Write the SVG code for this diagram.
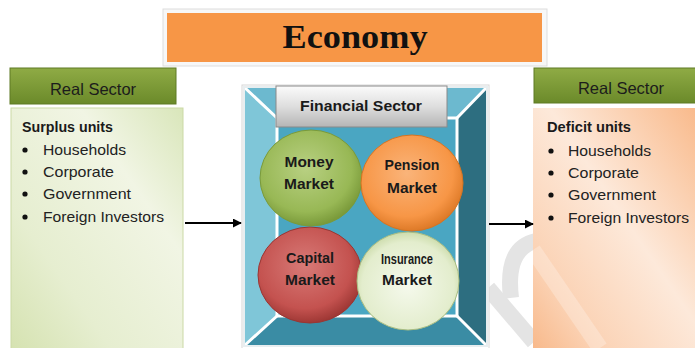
<svg xmlns="http://www.w3.org/2000/svg" width="695" height="348" viewBox="0 0 695 348">
<defs>
<linearGradient id="gHead" x1="0" y1="0" x2="0" y2="1"><stop offset="0" stop-color="#8fab45"/><stop offset="1" stop-color="#6b8a2a"/></linearGradient>
<linearGradient id="gGreenBody" x1="1" y1="0" x2="0" y2="1"><stop offset="0" stop-color="#d9e6ba"/><stop offset="0.3" stop-color="#f1f5e4"/><stop offset="0.7" stop-color="#e6eed0"/><stop offset="1" stop-color="#d5e2b0"/></linearGradient>
<linearGradient id="gOrangeBody" x1="1" y1="0" x2="0" y2="1"><stop offset="0" stop-color="#f9b98a"/><stop offset="0.45" stop-color="#fde9da"/><stop offset="0.8" stop-color="#fbd2b4"/><stop offset="1" stop-color="#f8b889"/></linearGradient>
<linearGradient id="gGray" x1="0" y1="0" x2="0" y2="1"><stop offset="0" stop-color="#fbfbfb"/><stop offset="0.5" stop-color="#dedede"/><stop offset="1" stop-color="#b5b5b5"/></linearGradient>
<radialGradient id="gMoney" cx="0.45" cy="0.4" r="0.6"><stop offset="0" stop-color="#b8d082"/><stop offset="0.75" stop-color="#98b855"/><stop offset="1" stop-color="#7a9a3a"/></radialGradient>
<radialGradient id="gPension" cx="0.45" cy="0.4" r="0.6"><stop offset="0" stop-color="#fab47a"/><stop offset="0.75" stop-color="#f79646"/><stop offset="1" stop-color="#de7a28"/></radialGradient>
<radialGradient id="gCapital" cx="0.45" cy="0.4" r="0.6"><stop offset="0" stop-color="#d87a77"/><stop offset="0.75" stop-color="#c4524f"/><stop offset="1" stop-color="#9f3835"/></radialGradient>
<radialGradient id="gInsurance" cx="0.5" cy="0.55" r="0.6"><stop offset="0" stop-color="#f5f9ec"/><stop offset="0.75" stop-color="#e3edcd"/><stop offset="1" stop-color="#c2d49c"/></radialGradient>
<marker id="arr" viewBox="0 0 10 10" refX="9" refY="5" markerWidth="9" markerHeight="9" markerUnits="userSpaceOnUse" orient="auto"><path d="M0,0 L10,5 L0,10 z" fill="#000"/></marker>
</defs>
<style>
.sans{font-family:"Liberation Sans","DejaVu Sans",sans-serif;}
.head{font-size:16.5px;fill:#1c1c1c;text-anchor:middle;}
.item{font-size:15px;fill:#222;}
.title{font-size:15px;font-weight:bold;fill:#1a1a1a;}
.mk{font-size:15px;font-weight:bold;fill:#1a1a1a;text-anchor:middle;}
.wl{stroke:#ffffff;stroke-width:3;fill:none;}
</style>
<rect width="695" height="348" fill="#ffffff"/>

<g id="watermark">
<path d="M536 241 Q505 248 511 298" stroke="#e4e4e4" stroke-width="16" fill="none"/>
<path d="M488 288 L534 342" stroke="#e4e4e4" stroke-width="16" fill="none"/>
</g>

<g id="economy">
<rect x="163" y="9" width="384" height="57" fill="#f7f7f7" stroke="#dddddd" stroke-width="1"/>
<rect x="167" y="13" width="375" height="49" fill="#f79646"/>
<text x="355" y="48" font-family="Liberation Serif,'DejaVu Serif',serif" font-weight="bold" font-size="34" fill="#111" text-anchor="middle" textLength="145" lengthAdjust="spacingAndGlyphs">Economy</text>
</g>

<g id="left-real-sector">
<rect x="10" y="68" width="166" height="36" fill="url(#gHead)" stroke="#5f7a25" stroke-width="1"/>
<text class="sans head" x="93" y="95">Real Sector</text>
<rect x="11" y="108" width="172" height="245" fill="url(#gGreenBody)" stroke="#cbd9a6" stroke-width="1"/>
<text class="sans title" x="22" y="132" textLength="91" lengthAdjust="spacingAndGlyphs">Surplus units</text>
<g class="sans item">
<circle cx="25" cy="150" r="2.6" fill="#111"/><text x="43" y="155" textLength="83" lengthAdjust="spacingAndGlyphs">Households</text>
<circle cx="25" cy="172" r="2.6" fill="#111"/><text x="43" y="177" textLength="71" lengthAdjust="spacingAndGlyphs">Corporate</text>
<circle cx="25" cy="194" r="2.6" fill="#111"/><text x="43" y="199" textLength="88" lengthAdjust="spacingAndGlyphs">Government</text>
<circle cx="25" cy="217" r="2.6" fill="#111"/><text x="43" y="222" textLength="121" lengthAdjust="spacingAndGlyphs">Foreign Investors</text>
</g>
</g>

<g id="financial-sector">
<rect x="242" y="85" width="247" height="265" fill="#ffffff" stroke="#d8d8d8" stroke-width="1"/>
<polygon points="244,87 277,118 277,316 244,346" fill="#7fc6d8"/>
<polygon points="244,87 487,87 457,118 277,118" fill="#6cb9cf"/>
<polygon points="487,87 487,346 457,316 457,118" fill="#2d6e80"/>
<polygon points="244,346 487,346 457,316 277,316" fill="#3a8ca4"/>
<rect x="277" y="118" width="180" height="198" fill="#4aa6c2"/>
<rect x="277" y="118" width="180" height="198" class="wl"/>
<path class="wl" d="M244 87 L277 118 M487 87 L457 118 M244 346 L277 316 M487 346 L457 316"/>
<rect x="244" y="87" width="243" height="259" fill="none" stroke="#e8eef0" stroke-width="2"/>
<rect x="276" y="86" width="171" height="41" fill="url(#gGray)" stroke="#8a8a8a" stroke-width="1"/>
<text class="sans title" x="361" y="111" text-anchor="middle" textLength="122" lengthAdjust="spacingAndGlyphs">Financial Sector</text>
</g>

<g id="capital-market">
<ellipse cx="310" cy="275" rx="52" ry="48" fill="url(#gCapital)" stroke="#9a3532" stroke-width="1"/>
<text class="sans mk" x="310" y="263" textLength="48" lengthAdjust="spacingAndGlyphs">Capital</text>
<text class="sans mk" x="310" y="285" textLength="50" lengthAdjust="spacingAndGlyphs">Market</text>
</g>
<g id="money-market">
<ellipse cx="311" cy="178" rx="51" ry="48" fill="url(#gMoney)" stroke="#7a9a3a" stroke-width="1"/>
<text class="sans mk" x="309" y="167" textLength="49" lengthAdjust="spacingAndGlyphs">Money</text>
<text class="sans mk" x="309" y="189" textLength="50" lengthAdjust="spacingAndGlyphs">Market</text>
</g>
<g id="insurance-market">
<ellipse cx="408" cy="281" rx="51" ry="49" fill="url(#gInsurance)" stroke="#a9bd82" stroke-width="1"/>
<text class="sans mk" x="407" y="264" font-size="12" textLength="52" lengthAdjust="spacingAndGlyphs">Insurance</text>
<text class="sans mk" x="407" y="285" textLength="50" lengthAdjust="spacingAndGlyphs">Market</text>
</g>
<g id="pension-market">
<ellipse cx="412" cy="183" rx="51" ry="48" fill="url(#gPension)" stroke="#d57422" stroke-width="1"/>
<text class="sans mk" x="412" y="170" textLength="55" lengthAdjust="spacingAndGlyphs">Pension</text>
<text class="sans mk" x="412" y="193" textLength="50" lengthAdjust="spacingAndGlyphs">Market</text>
</g>

<g id="right-real-sector">
<rect x="534" y="68" width="165" height="35" fill="url(#gHead)" stroke="#5f7a25" stroke-width="1"/>
<text class="sans head" x="621" y="94">Real Sector</text>
<rect x="533" y="108" width="166" height="245" fill="url(#gOrangeBody)"/>
<path d="M533 250 L600 348" stroke="#ffffff" stroke-opacity="0.25" stroke-width="16" fill="none"/>
<text class="sans title" x="547" y="132" textLength="84" lengthAdjust="spacingAndGlyphs">Deficit units</text>
<g class="sans item">
<circle cx="551" cy="151" r="2.6" fill="#111"/><text x="568" y="156" textLength="83" lengthAdjust="spacingAndGlyphs">Households</text>
<circle cx="551" cy="173" r="2.6" fill="#111"/><text x="568" y="178" textLength="71" lengthAdjust="spacingAndGlyphs">Corporate</text>
<circle cx="551" cy="195" r="2.6" fill="#111"/><text x="568" y="200" textLength="88" lengthAdjust="spacingAndGlyphs">Government</text>
<circle cx="551" cy="218" r="2.6" fill="#111"/><text x="568" y="223" textLength="121" lengthAdjust="spacingAndGlyphs">Foreign Investors</text>
</g>
</g>

<g id="connectors">
<line x1="185" y1="223" x2="241" y2="223" stroke="#000" stroke-width="2" marker-end="url(#arr)"/>
<line x1="489" y1="224" x2="533" y2="224" stroke="#000" stroke-width="2" marker-end="url(#arr)"/>
</g>
</svg>
